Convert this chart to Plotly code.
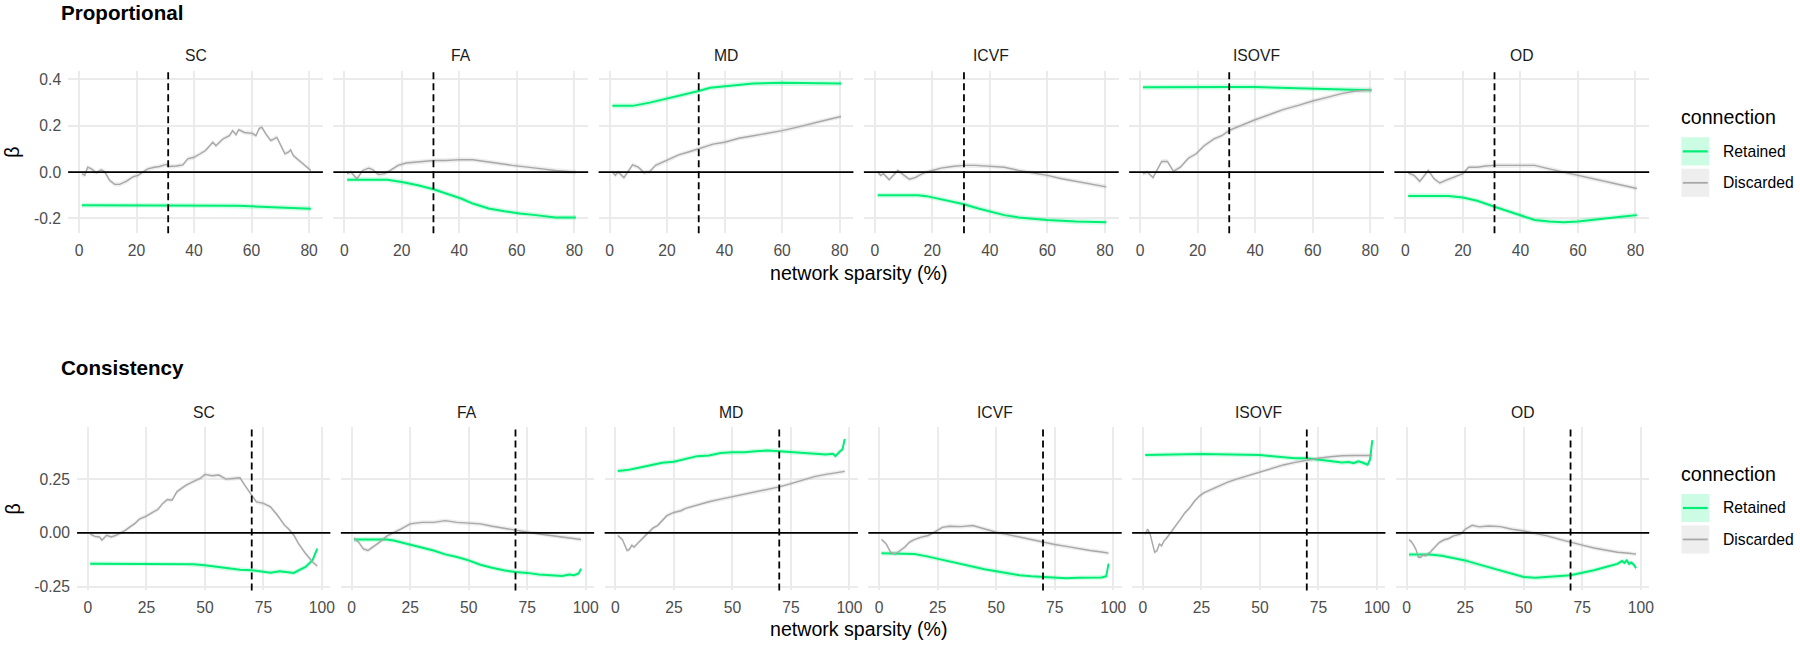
import plotly.graph_objects as go

# ---------------- data ----------------
metrics = ["SC", "FA", "MD", "ICVF", "ISOVF", "OD"]
groups = ["Retained", "Discarded"]
row_titles = ["Proportional", "Consistency"]
prop_threshold = 31
cons_threshold = 70
prop_xticks = [0, 20, 40, 60, 80]
cons_xticks = [0, 25, 50, 75, 100]
prop_yticks = [-0.2, 0.0, 0.2, 0.4]
prop_yticklabels = ["-0.2", "0.0", "0.2", "0.4"]
cons_yticks = [-0.25, 0.0, 0.25]
cons_yticklabels = ["-0.25", "0.00", "0.25"]
ci_retained = 0.011
ci_discarded = 0.010

# Proportional thresholding
prop_sc_ret_x = [1, 10, 20, 30, 40, 45, 50, 55, 60, 65, 70, 75, 80.6]
prop_sc_ret_y = [-0.143, -0.143, -0.143, -0.143, -0.143, -0.144, -0.145, -0.146, -0.148, -0.15, -0.152, -0.155, -0.158]
prop_sc_dis_x = [1, 2, 3, 4.3, 6, 7.7, 9, 10.6, 12.4, 14.1, 16.4, 18.7, 20.5, 22.2, 23.9, 26.2, 28, 30.3, 31.4, 33.8,
                 36.1, 37.8, 40, 42, 44, 46.5, 47.6, 50, 52.3, 53.4, 54.6, 55.5, 57.5, 60.3, 61.5, 62.7, 63.6, 65, 66.7, 68.8,
                 70.2, 71.6, 72.8, 73.6, 74.5, 76.5, 78.8, 80.6]
prop_sc_dis_y = [-0.007, -0.014, 0.021, 0.014, -0.003, 0.01, 0.0, -0.036, -0.053, -0.053, -0.04, -0.021, -0.014, 0.0, 0.014, 0.021, 0.024, 0.033, 0.024, 0.026,
                 0.031, 0.057, 0.064, 0.078, 0.093, 0.129, 0.114, 0.143, 0.157, 0.179, 0.161, 0.183, 0.171, 0.167, 0.157, 0.189, 0.193, 0.164, 0.136, 0.15,
                 0.114, 0.079, 0.086, 0.096, 0.071, 0.05, 0.029, 0.007]

prop_fa_ret_x = [1, 15, 20, 25.6, 31, 36.5, 40.6, 44.7, 50.2, 55.7, 61, 66.6, 73.4, 80.5]
prop_fa_ret_y = [-0.033, -0.033, -0.043, -0.057, -0.074, -0.097, -0.114, -0.136, -0.157, -0.169, -0.179, -0.186, -0.196, -0.196]
prop_fa_dis_x = [1, 2.3, 4.4, 6.4, 8.5, 9.8, 11.9, 14, 16, 18.7, 21.5, 25.6, 31, 35.2, 40.6, 44.7, 50.2, 58.4, 66.6, 73.4, 80.5]
prop_fa_dis_y = [-0.007, 0.0, -0.029, 0.007, 0.017, 0.011, -0.011, -0.007, 0.007, 0.029, 0.039, 0.043, 0.05, 0.05, 0.054, 0.053, 0.043, 0.029, 0.017, 0.007, 0.0]

prop_md_ret_x = [1, 8, 14, 20, 25, 31, 35, 40, 45, 50, 60, 70, 80.5]
prop_md_ret_y = [0.286, 0.286, 0.3, 0.317, 0.331, 0.35, 0.364, 0.371, 0.379, 0.383, 0.386, 0.383, 0.383]
prop_md_dis_x = [1, 2, 3, 5, 8, 10, 12, 14, 16, 18, 20, 24, 28, 31, 36, 40, 45, 50, 55, 60, 65, 70, 75, 80.5]
prop_md_dis_y = [0.0, -0.014, 0.0, -0.024, 0.031, 0.021, -0.003, 0.003, 0.029, 0.04, 0.05, 0.074, 0.089, 0.1, 0.121, 0.129, 0.146, 0.157, 0.167, 0.179, 0.193, 0.207, 0.224, 0.24]

prop_icvf_ret_x = [1, 15, 18, 22, 26, 31, 36, 40, 45, 50, 55, 60, 70, 80.5]
prop_icvf_ret_y = [-0.1, -0.1, -0.104, -0.114, -0.124, -0.139, -0.157, -0.169, -0.186, -0.196, -0.203, -0.207, -0.214, -0.217]
prop_icvf_dis_x = [1, 2, 3, 5, 8, 10, 12, 14, 17, 20, 23, 27, 31, 35, 40, 45, 50, 55, 60, 65, 70, 75, 80.5]
prop_icvf_dis_y = [0.0, -0.014, -0.007, -0.033, 0.007, -0.014, -0.031, -0.024, -0.004, 0.007, 0.017, 0.024, 0.029, 0.029, 0.026, 0.021, 0.007, -0.003, -0.014, -0.029, -0.04, -0.051, -0.064]

prop_isovf_ret_x = [1, 10, 20, 31, 40, 50, 60, 70, 80.5]
prop_isovf_ret_y = [0.366, 0.367, 0.368, 0.368, 0.367, 0.364, 0.363, 0.357, 0.354]
prop_isovf_dis_x = [1, 2.5, 4.5, 7.5, 9.5, 11.6, 14, 16.8, 19.5, 22.3, 25.7, 28.4, 31.2, 35.4, 40, 46, 50, 55.3, 60, 66, 70, 75, 80.5]
prop_isovf_dis_y = [-0.007, 0.0, -0.024, 0.046, 0.046, 0.003, 0.021, 0.06, 0.079, 0.114, 0.143, 0.157, 0.181, 0.203, 0.226, 0.253, 0.271, 0.289, 0.307, 0.326, 0.339, 0.35, 0.354]

prop_od_ret_x = [1, 15, 20, 25, 31, 35, 40, 45, 50, 55, 60, 65, 70, 75, 80.5]
prop_od_ret_y = [-0.103, -0.103, -0.11, -0.124, -0.15, -0.167, -0.186, -0.207, -0.214, -0.217, -0.214, -0.207, -0.197, -0.193, -0.186]
prop_od_dis_x = [1, 2, 3, 5, 8, 10, 12, 14, 17, 20, 22, 25, 28, 31, 35, 40, 45, 50, 55, 60, 65, 70, 75, 80.5]
prop_od_dis_y = [-0.003, -0.01, -0.014, -0.04, 0.007, -0.029, -0.047, -0.036, -0.021, -0.007, 0.021, 0.021, 0.026, 0.029, 0.029, 0.029, 0.029, 0.014, 0.0, -0.014, -0.029, -0.043, -0.057, -0.071]

# Consistency thresholding
cons_sc_ret_x = [1, 40, 45, 50, 55, 60, 65, 70, 75, 78, 82, 86, 88, 90, 93, 96, 98]
cons_sc_ret_y = [-0.143, -0.143, -0.146, -0.151, -0.158, -0.166, -0.171, -0.174, -0.179, -0.185, -0.179, -0.182, -0.186, -0.174, -0.158, -0.127, -0.073]
cons_sc_dis_x = [1, 3, 5, 6, 8, 10, 12, 14, 16, 18, 20, 22, 25, 28, 30, 32, 34, 36, 38, 40,
                 42, 45, 48, 50, 53, 56, 59, 62, 65, 67, 70, 72, 75, 78, 81, 84, 86, 88, 90, 93, 96, 98]
cons_sc_dis_y = [-0.006, -0.016, -0.019, -0.034, -0.011, -0.019, -0.011, 0.0, 0.012, 0.028, 0.043, 0.064, 0.078, 0.098, 0.11, 0.137, 0.155, 0.152, 0.191, 0.207,
                 0.222, 0.238, 0.253, 0.272, 0.266, 0.269, 0.25, 0.253, 0.256, 0.222, 0.175, 0.144, 0.137, 0.121, 0.082, 0.036, 0.016, -0.011, -0.05, -0.096, -0.135, -0.154]

cons_fa_ret_x = [1, 15, 18, 22, 26, 30, 35, 40, 45, 50, 55, 60, 65, 70, 75, 80, 85, 90, 93, 95, 97, 98]
cons_fa_ret_y = [-0.031, -0.031, -0.035, -0.046, -0.058, -0.069, -0.082, -0.1, -0.112, -0.128, -0.148, -0.162, -0.174, -0.182, -0.186, -0.194, -0.197, -0.2, -0.194, -0.197, -0.189, -0.166]
cons_fa_dis_x = [1, 3, 5, 7, 9, 12, 15, 18, 21, 25, 30, 35, 40, 45, 50, 55, 60, 65, 70, 75, 80, 85, 90, 95, 98]
cons_fa_dis_y = [-0.025, -0.043, -0.074, -0.082, -0.066, -0.043, -0.015, 0.0, 0.018, 0.042, 0.049, 0.049, 0.057, 0.049, 0.045, 0.042, 0.031, 0.022, 0.011, 0.003, -0.005, -0.012, -0.02, -0.025, -0.031]

cons_md_ret_x = [1, 5, 10, 15, 20, 25, 30, 35, 40, 45, 50, 55, 60, 65, 70, 75, 80, 85, 90, 93, 94, 96, 97, 98]
cons_md_ret_y = [0.288, 0.292, 0.303, 0.314, 0.326, 0.331, 0.345, 0.357, 0.36, 0.372, 0.375, 0.375, 0.38, 0.383, 0.38, 0.377, 0.372, 0.369, 0.365, 0.368, 0.357, 0.38, 0.388, 0.437]
cons_md_dis_x = [1, 3, 5, 6, 7, 8, 10, 12, 14, 16, 18, 20, 22, 25, 28, 30, 35, 40, 45, 50, 55, 60, 65, 70, 75, 80, 85, 90, 95, 98]
cons_md_dis_y = [-0.012, -0.031, -0.082, -0.077, -0.058, -0.066, -0.043, -0.02, 0.003, 0.022, 0.034, 0.057, 0.08, 0.095, 0.103, 0.114, 0.131, 0.145, 0.157, 0.168, 0.18, 0.191, 0.2, 0.214, 0.229, 0.246, 0.262, 0.272, 0.28, 0.286]

cons_icvf_ret_x = [1, 10, 15, 20, 25, 30, 35, 40, 45, 50, 55, 60, 65, 70, 75, 80, 85, 90, 95, 97, 98]
cons_icvf_ret_y = [-0.095, -0.095, -0.098, -0.108, -0.12, -0.132, -0.143, -0.158, -0.169, -0.178, -0.189, -0.197, -0.202, -0.206, -0.209, -0.211, -0.209, -0.208, -0.207, -0.202, -0.143]
cons_icvf_dis_x = [1, 3, 5, 7, 9, 11, 13, 15, 18, 21, 24, 27, 30, 35, 40, 45, 50, 55, 60, 65, 70, 75, 80, 85, 90, 95, 98]
cons_icvf_dis_y = [-0.031, -0.051, -0.092, -0.097, -0.082, -0.066, -0.043, -0.031, -0.02, -0.012, 0.006, 0.026, 0.031, 0.029, 0.034, 0.018, 0.003, -0.008, -0.02, -0.032, -0.043, -0.054, -0.063, -0.074, -0.082, -0.089, -0.094]

cons_isovf_ret_x = [1, 25, 50, 55, 60, 65, 70, 75, 80, 85, 88, 90, 92, 94, 96, 97, 98]
cons_isovf_ret_y = [0.362, 0.367, 0.362, 0.357, 0.351, 0.347, 0.347, 0.342, 0.334, 0.327, 0.33, 0.324, 0.333, 0.326, 0.317, 0.34, 0.432]
cons_isovf_dis_x = [1, 2, 3, 4, 5, 6, 7, 8, 9, 10, 12, 14, 16, 18, 20, 22, 24, 26, 28, 30, 33, 36, 40, 45, 50, 55, 60, 65, 70, 75, 80, 85, 90, 95, 98]
cons_isovf_dis_y = [-0.006, 0.017, -0.002, -0.044, -0.09, -0.083, -0.052, -0.06, -0.037, -0.026, 0.002, 0.032, 0.063, 0.094, 0.117, 0.147, 0.17, 0.186, 0.196, 0.207, 0.219, 0.235, 0.25, 0.267, 0.285, 0.301, 0.316, 0.328, 0.339, 0.347, 0.354, 0.359, 0.36, 0.36, 0.36]

cons_od_ret_x = [1, 10, 15, 20, 25, 30, 35, 40, 45, 50, 55, 60, 65, 70, 75, 80, 85, 88, 90, 92, 93, 94, 95, 96, 97, 98]
cons_od_ret_y = [-0.101, -0.101, -0.106, -0.116, -0.128, -0.144, -0.159, -0.174, -0.19, -0.205, -0.209, -0.206, -0.202, -0.197, -0.185, -0.174, -0.159, -0.151, -0.144, -0.131, -0.14, -0.128, -0.144, -0.138, -0.148, -0.164]
cons_od_dis_x = [1, 2, 3, 4, 5, 6, 7, 8, 10, 12, 14, 16, 18, 20, 23, 25, 28, 31, 35, 40, 45, 50, 55, 60, 65, 70, 75, 80, 85, 90, 95, 98]
cons_od_dis_y = [-0.032, -0.041, -0.057, -0.078, -0.113, -0.113, -0.102, -0.106, -0.09, -0.067, -0.044, -0.032, -0.026, -0.014, -0.006, 0.017, 0.035, 0.028, 0.032, 0.029, 0.017, 0.009, -0.002, -0.014, -0.029, -0.044, -0.057, -0.07, -0.08, -0.09, -0.095, -0.099]

prop_series = [
    (prop_sc_ret_x, prop_sc_ret_y, prop_sc_dis_x, prop_sc_dis_y),
    (prop_fa_ret_x, prop_fa_ret_y, prop_fa_dis_x, prop_fa_dis_y),
    (prop_md_ret_x, prop_md_ret_y, prop_md_dis_x, prop_md_dis_y),
    (prop_icvf_ret_x, prop_icvf_ret_y, prop_icvf_dis_x, prop_icvf_dis_y),
    (prop_isovf_ret_x, prop_isovf_ret_y, prop_isovf_dis_x, prop_isovf_dis_y),
    (prop_od_ret_x, prop_od_ret_y, prop_od_dis_x, prop_od_dis_y),
]
cons_series = [
    (cons_sc_ret_x, cons_sc_ret_y, cons_sc_dis_x, cons_sc_dis_y),
    (cons_fa_ret_x, cons_fa_ret_y, cons_fa_dis_x, cons_fa_dis_y),
    (cons_md_ret_x, cons_md_ret_y, cons_md_dis_x, cons_md_dis_y),
    (cons_icvf_ret_x, cons_icvf_ret_y, cons_icvf_dis_x, cons_icvf_dis_y),
    (cons_isovf_ret_x, cons_isovf_ret_y, cons_isovf_dis_x, cons_isovf_dis_y),
    (cons_od_ret_x, cons_od_ret_y, cons_od_dis_x, cons_od_dis_y),
]

# ---------------- style / layout ----------------
W, H = 1800, 647
FONT = "Liberation Sans, Arial, Helvetica, sans-serif"
GREEN = "#00EE76"
GREEN_FILL = "rgba(0,238,118,0.2)"
GREY = "#A8A8A8"
GREY_FILL = "rgba(170,170,170,0.2)"
GRID = "#EBEBEB"
TICK_COL = "#4D4D4D"
TICK_SIZE = 15.7
TITLE_SIZE = 19.6
ROW_TITLE_SIZE = 20.6


def fx(px):
    return px / W


def fy(py):
    return 1 - py / H


rows = [
    dict(title=row_titles[0], series=prop_series, thr=prop_threshold, xticks=prop_xticks,
         yticks=prop_yticks, ylabels=prop_yticklabels, xrange=[-3.8, 84.8], yrange=[-0.264, 0.436],
         left=68.3, width=255.5, top=71.7, bottom=235.0, strip_y=56.0, title_y=12.5,
         xtitle_y=275.0),
    dict(title=row_titles[1], series=cons_series, thr=cons_threshold, xticks=cons_xticks,
         yticks=cons_yticks, ylabels=cons_yticklabels, xrange=[-4.6, 103.6], yrange=[-0.2675, 0.4917],
         left=77.3, width=254.0, top=430.5, bottom=595.0, strip_y=416.0, title_y=370.7,
         xtitle_y=634.0),
]
GAP = 10.5

fig = go.Figure()
layout = dict(width=W, height=H, margin=dict(l=0, r=0, t=0, b=0),
              paper_bgcolor="white", plot_bgcolor="white", showlegend=False,
              font=dict(family=FONT, color="#1A1A1A"))
shapes = []
annotations = []

for r, row in enumerate(rows):
    for c, m in enumerate(metrics):
        idx = r * 6 + c + 1
        xn = "x" if idx == 1 else f"x{idx}"
        yn = "y" if idx == 1 else f"y{idx}"
        xkey = "xaxis" if idx == 1 else f"xaxis{idx}"
        ykey = "yaxis" if idx == 1 else f"yaxis{idx}"
        left = row["left"] + c * (row["width"] + GAP)
        layout[xkey] = dict(domain=[fx(left), fx(left + row["width"])], range=row["xrange"],
                            anchor=yn, tickvals=row["xticks"], ticktext=[str(v) for v in row["xticks"]],
                            showgrid=True, gridcolor=GRID, gridwidth=1.6, zeroline=False,
                            showline=False, ticks="", tickfont=dict(size=TICK_SIZE, color=TICK_COL),
                            ticklabelstandoff=6, fixedrange=True)
        layout[ykey] = dict(domain=[fy(row["bottom"]), fy(row["top"])], range=row["yrange"],
                            anchor=xn, tickvals=row["yticks"], ticktext=row["ylabels"],
                            showticklabels=(c == 0), showgrid=True, gridcolor=GRID, gridwidth=1.6,
                            zeroline=False, showline=False, ticks="",
                            tickfont=dict(size=TICK_SIZE, color=TICK_COL), ticklabelstandoff=6,
                            fixedrange=True)
        rx, ry, dx, dy = row["series"][c]
        for xs, ys, ci, fill in [(rx, ry, ci_retained, GREEN_FILL),
                                 (dx, dy, ci_discarded, GREY_FILL)]:
            upper = [v + ci for v in ys]
            lower = [v - ci for v in ys]
            fig.add_trace(go.Scatter(x=list(xs) + list(xs)[::-1], y=upper + lower[::-1],
                                     fill="toself", fillcolor=fill, line=dict(width=0),
                                     mode="lines", hoverinfo="skip", xaxis=xn, yaxis=yn))
        for xs, ys, col, lw, name in [(rx, ry, GREEN, 2.0, groups[0]), (dx, dy, GREY, 1.4, groups[1])]:
            fig.add_trace(go.Scatter(x=xs, y=ys, mode="lines", name=name,
                                     line=dict(color=col, width=lw), xaxis=xn, yaxis=yn))
        # zero line and threshold line
        shapes.append(dict(type="line", xref="paper", yref=yn,
                           x0=fx(left), x1=fx(left + row["width"]), y0=0, y1=0,
                           line=dict(color="black", width=1.6), layer="above"))
        shapes.append(dict(type="line", xref=xn, yref="paper", x0=row["thr"], x1=row["thr"],
                           y0=fy(row["bottom"]), y1=fy(row["top"]),
                           line=dict(color="black", width=1.8, dash="7px,4px"),
                           layer="above"))
        # strip label
        annotations.append(dict(text=m, xref="paper", yref="paper", x=fx(left + row["width"] / 2),
                                y=fy(row["strip_y"]), showarrow=False, xanchor="center",
                                yanchor="middle", font=dict(size=TICK_SIZE, color="#1A1A1A")))
    # row title
    annotations.append(dict(text=f"<b>{row['title']}</b>", xref="paper", yref="paper", x=fx(59),
                            y=fy(row["title_y"]), showarrow=False, xanchor="left", yanchor="middle",
                            font=dict(size=ROW_TITLE_SIZE, color="black")))
    # y title
    annotations.append(dict(text="β", xref="paper", yref="paper", x=fx(12.7),
                            y=fy((row["top"] + row["bottom"]) / 2), showarrow=False, textangle=-90,
                            xanchor="center", yanchor="middle",
                            font=dict(size=TITLE_SIZE, color="black")))
    # x title
    annotations.append(dict(text="network sparsity (%)", xref="paper", yref="paper", x=fx(861),
                            y=fy(row["xtitle_y"]), showarrow=False, xanchor="center",
                            yanchor="middle", font=dict(size=TITLE_SIZE, color="black")))
    # legend
    mid = (row["top"] + row["bottom"]) / 2
    annotations.append(dict(text="connection", xref="paper", yref="paper", x=fx(1684),
                            y=fy(mid - 35), showarrow=False, xanchor="left", yanchor="middle",
                            font=dict(size=TITLE_SIZE, color="black")))
    for k, (g, fill, col, lw) in enumerate([(groups[0], GREEN_FILL, GREEN, 2.2),
                                            (groups[1], GREY_FILL, GREY, 1.8)]):
        ky0 = mid - 15 + k * 31.7
        ky1 = ky0 + 28.4
        shapes.append(dict(type="rect", xref="paper", yref="paper", x0=fx(1686), x1=fx(1714),
                           y0=fy(ky1), y1=fy(ky0), fillcolor=fill, line=dict(width=0)))
        shapes.append(dict(type="line", xref="paper", yref="paper", x0=fx(1687.5), x1=fx(1712.5),
                           y0=fy((ky0 + ky1) / 2), y1=fy((ky0 + ky1) / 2),
                           line=dict(color=col, width=lw)))
        annotations.append(dict(text=g, xref="paper", yref="paper", x=fx(1725.5),
                                y=fy((ky0 + ky1) / 2), showarrow=False, xanchor="left",
                                yanchor="middle", font=dict(size=TICK_SIZE, color="black")))

layout["shapes"] = shapes
layout["annotations"] = annotations
fig.update_layout(**layout)
fig.write_html("out.html", config={"displayModeBar": False},
               post_script="document.body.style.margin='0px';")
